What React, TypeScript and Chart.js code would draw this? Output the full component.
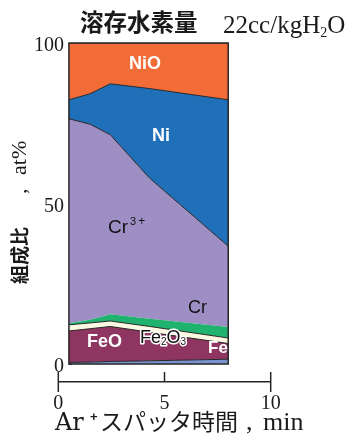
import React, { useEffect, useRef } from 'react';
import { Chart, registerables } from 'chart.js';

Chart.register(...registerables);

// Sputtering time (min) of each measured depth
const SPUTTER_MIN = [0.5, 1.5, 2.45, 4.3, 8.0];
// Composition, at% (stacked bottom to top)
const FE = [0.5, 0.6, 0.8, 1.0, 1.5];
const FEO = [9.8, 10.4, 10.9, 8.9, 4.9];
const FE2O3 = [1.9, 1.8, 1.7, 1.8, 1.7];
const CR = [0.5, 1.0, 2.1, 2.4, 3.4];
const CR3 = [63.7, 60.9, 55.9, 43.8, 25.2];
const NI = [5.9, 9.5, 15.9, 27.9, 45.6];
const NIO = [17.7, 15.8, 12.7, 14.2, 17.7];

const X_TICKS = [0, 5, 10];
const Y_TICKS = [0, 10, 20, 30, 40, 50, 60, 70, 80, 90, 100];
const Y_LABELED = [0, 50, 100];

const SERIF = "'Liberation Serif', 'DejaVu Serif', serif";
const SERIF_WIDE = "'DejaVu Serif', 'Liberation Serif', serif";
const SANS = "'Liberation Sans', Arial, sans-serif";
const CJK = "'Noto Sans CJK JP', 'Noto Sans', sans-serif";
const INK = '#262626';

type Run = { t: string; f: string; dy?: number; dx?: number };

function drawRuns(ctx: CanvasRenderingContext2D, x: number, y: number, runs: Run[], color: string, halo?: string) {
  let cx = x;
  for (const r of runs) {
    ctx.font = r.f;
    cx += r.dx || 0;
    const yy = y + (r.dy || 0);
    if (halo) {
      ctx.strokeStyle = halo;
      ctx.lineWidth = 3;
      ctx.lineJoin = 'round';
      ctx.strokeText(r.t, cx, yy);
    }
    ctx.fillStyle = color;
    ctx.fillText(r.t, cx, yy);
    cx += ctx.measureText(r.t).width;
  }
}

const toPts = (vals: number[]) => vals.map((v, i) => ({ x: SPUTTER_MIN[i], y: v }));

const decor = {
  id: 'decor',
  afterDatasetsDraw(chart: any) {
    const { ctx, scales } = chart;
    const xs = scales.x;
    const ys = scales.y;
    const l = xs.getPixelForValue(SPUTTER_MIN[0]);
    const r = xs.getPixelForValue(SPUTTER_MIN[SPUTTER_MIN.length - 1]);
    const t = ys.getPixelForValue(100);
    const b = ys.getPixelForValue(0);
    ctx.save();
    ctx.strokeStyle = INK;
    ctx.lineWidth = 1.5;
    ctx.strokeRect(l, t, r - l, b - t);
    // x axis tick marks
    const ay = xs.top;
    X_TICKS.forEach((v, i) => {
      const px = xs.getPixelForValue(v);
      const end = i === 0 || i === X_TICKS.length - 1;
      ctx.beginPath();
      ctx.moveTo(px, ay - 10);
      ctx.lineTo(px, end ? ay + 10 : ay);
      ctx.stroke();
    });
    ctx.restore();
  },
  afterDraw(chart: any) {
    const { ctx } = chart;
    ctx.save();
    ctx.textAlign = 'left';
    ctx.textBaseline = 'alphabetic';
    // Title
    drawRuns(ctx, 80, 31, [{ t: '溶存水素量', f: `bold 23.5px ${CJK}` }], '#1a1a1a');
    drawRuns(ctx, 223, 33, [
      { t: '22cc/kgH', f: `25px ${SERIF}` },
      { t: '2', f: `14px ${SERIF}`, dy: 4 },
      { t: 'O', f: `25px ${SERIF}` },
    ], '#1a1a1a');
    // X title
    drawRuns(ctx, 55, 430, [{ t: 'Ar', f: `24px ${SERIF_WIDE}` }], '#1a1a1a');
    drawRuns(ctx, 90, 421, [{ t: '+', f: `bold 13px ${SANS}` }], '#1a1a1a');
    drawRuns(ctx, 100, 430, [{ t: 'スパッタ時間', f: `23px ${CJK}` }], '#1a1a1a');
    drawRuns(ctx, 246, 430, [{ t: ',', f: `26px ${SERIF}` }], '#1a1a1a');
    drawRuns(ctx, 263, 430, [{ t: 'min', f: `26px ${SERIF}` }], '#1a1a1a');
    // Y title (rotated)
    ctx.save();
    ctx.translate(27, 284);
    ctx.rotate(-Math.PI / 2);
    drawRuns(ctx, 0, 0, [{ t: '組成比', f: `bold 19px ${CJK}` }], '#1a1a1a');
    drawRuns(ctx, 90, -1, [{ t: ',', f: `22px ${SERIF}` }], '#1a1a1a');
    drawRuns(ctx, 109, -1, [{ t: 'at%', f: `22px ${SERIF}` }], '#1a1a1a');
    ctx.restore();
    // Region labels
    drawRuns(ctx, 129, 69, [{ t: 'NiO', f: `bold 18px ${SANS}` }], '#ffffff');
    drawRuns(ctx, 152, 141, [{ t: 'Ni', f: `bold 18px ${SANS}` }], '#ffffff');
    drawRuns(ctx, 108, 233, [
      { t: 'Cr', f: `19px ${SANS}` },
      { t: '3', f: `11px ${SANS}`, dy: -8, dx: 2 },
      { t: '+', f: `12px ${SANS}`, dy: -8, dx: 2 },
    ], '#111111');
    drawRuns(ctx, 188, 313, [{ t: 'Cr', f: `18px ${SANS}` }], '#111111');
    drawRuns(ctx, 87, 347, [{ t: 'FeO', f: `bold 18px ${SANS}` }], '#ffffff');
    drawRuns(ctx, 140, 343, [
      { t: 'Fe', f: `18px ${SANS}` },
      { t: '2', f: `10px ${SANS}`, dy: 2 },
      { t: 'O', f: `18px ${SANS}` },
      { t: '3', f: `10px ${SANS}`, dy: 2 },
    ], '#111111', '#ffffff');
    drawRuns(ctx, 208, 353, [{ t: 'Fe', f: `bold 17px ${SANS}` }], '#ffffff');
    ctx.restore();
  },
};

const SERIES: { name: string; vals: number[]; color: string; border: string }[] = [
  { name: 'Fe', vals: FE, color: '#7a93cf', border: INK },
  { name: 'FeO', vals: FEO, color: '#8f3562', border: INK },
  { name: 'Fe2O3', vals: FE2O3, color: '#fcf9e3', border: INK },
  { name: 'Cr', vals: CR, color: '#20b36f', border: 'rgba(0,0,0,0)' },
  { name: 'Cr3+', vals: CR3, color: '#9d8fc3', border: INK },
  { name: 'Ni', vals: NI, color: '#1f6fb9', border: INK },
  { name: 'NiO', vals: NIO, color: '#f26c37', border: INK },
];

export default function App() {
  const ref = useRef<HTMLCanvasElement | null>(null);
  useEffect(() => {
    if (!ref.current) return;
    const chart = new Chart(ref.current, {
      type: 'line',
      data: {
        datasets: SERIES.map((s, i) => ({
          label: s.name,
          data: toPts(s.vals),
          backgroundColor: s.color,
          borderColor: s.border,
          borderWidth: 1,
          pointRadius: 0,
          tension: 0,
          fill: i === 0 ? 'origin' : '-1',
        })),
      },
      options: {
        animation: false,
        responsive: false,
        devicePixelRatio: 1,
        layout: { padding: { left: 58.3, right: 80.3, top: 43, bottom: 8 } },
        plugins: { legend: { display: false }, tooltip: { enabled: false }, title: { display: false } },
        scales: {
          x: {
            type: 'linear',
            min: 0,
            max: 10,
            position: 'bottom',
            afterBuildTicks: (s: any) => { s.ticks = X_TICKS.map((v) => ({ value: v })); },
            grid: { display: false, drawTicks: false },
            border: { display: true, color: INK, width: 1.5 },
            ticks: { font: { family: SERIF, size: 20 }, color: '#1a1a1a', padding: 10, maxRotation: 0 },
          },
          y: {
            type: 'linear',
            stacked: true,
            min: -5.6,
            max: 100,
            position: { x: SPUTTER_MIN[0] },
            z: 1,
            afterBuildTicks: (s: any) => { s.ticks = Y_TICKS.map((v) => ({ value: v })); },
            grid: { drawOnChartArea: false, drawTicks: true, tickLength: -3, color: INK, lineWidth: 1 },
            border: { display: false },
            ticks: {
              font: { family: SERIF, size: 20 },
              color: '#1a1a1a',
              padding: 16,
              labelOffset: 3,
              // trailing space keeps the label clear of the frame
              callback: (v: any) => (Y_LABELED.includes(Number(v)) ? String(v) + ' ' : ''),
            },
          },
        },
      } as any,
      plugins: [decor],
    });
    return () => chart.destroy();
  }, []);
  return (
    <div style={{ position: 'absolute', left: 0, top: 0, width: 351, height: 434, background: '#fff' }}>
      <canvas ref={ref} width={351} height={434} style={{ display: 'block', width: 351, height: 434 }} />
    </div>
  );
}
